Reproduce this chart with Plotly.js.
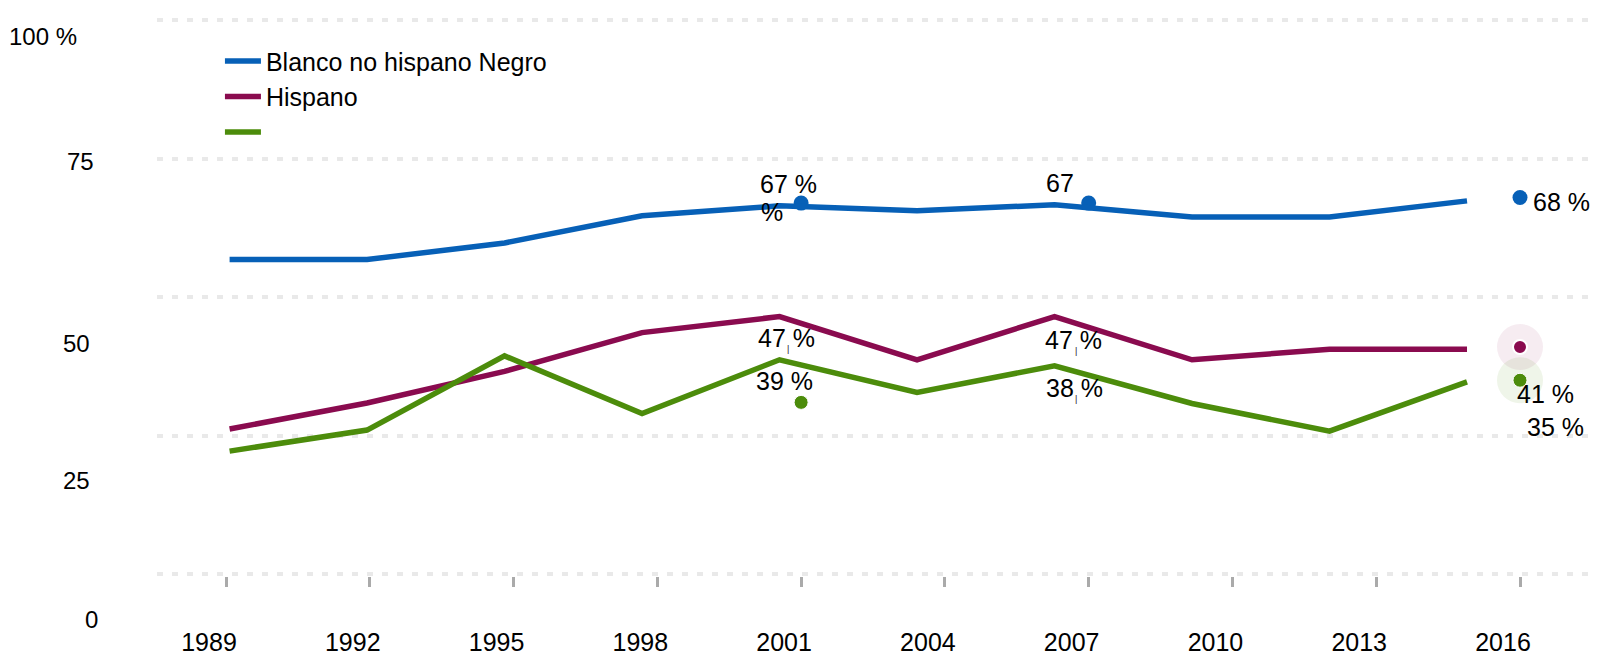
<!DOCTYPE html>
<html><head><meta charset="utf-8">
<script src="https://cdn.plot.ly/plotly-3.0.1.min.js"></script>
<style>html,body{margin:0;padding:0;background:#fff}#chart{width:1601px;height:655px}</style>
</head><body><div id="chart"></div>
<script>
// ---- data ----
const years = [1989, 1992, 1995, 1998, 2001, 2004, 2007, 2010, 2013, 2016];
const blanco = [56.8, 56.8, 59.8, 64.7, 66.5, 65.6, 66.7, 64.5, 64.5, 67.4];
const hispano = [26.2, 30.9, 36.6, 43.6, 46.5, 38.7, 46.5, 38.7, 40.6, 40.6];
const negro = [22.2, 26.0, 39.4, 29.0, 38.7, 32.8, 37.6, 30.8, 25.8, 34.7];
const seriesNames = ['Blanco no hispano Negro', 'Hispano', ' '];
const tickYears = [1989, 1992, 1995, 1998, 2001, 2004, 2007, 2010, 2013, 2016];
const yTickVals = [100, 75, 50, 25, 0];
const yTickText = ['100 %', '75', '50', '25', '0'];
const dotYearsBlanco = [2001, 2007, 2016];
const dotBlanco = [67, 67, 68];
const dotYearsHispano = [2016];
const dotHispano = [41];
const dotYearsNegro = [2001, 2016];
const dotNegro = [31, 35];
const labelTexts = ['67 %', '%', '67', '68 %', '47 %', '47 %', '39 %', '38 %', '41 %', '35 %'];
const labelYears = [2001, 2001, 2007, 2016, 2001, 2007, 2001, 2007, 2016, 2016];
const labelValues = [67, 67, 67, 68, 47, 47, 39, 38, 41, 35];
const markYears = [2001, 2007, 2007];
const markValues = [47, 47, 38];

// ---- style ----
const FONT = "Arial, 'Liberation Sans', sans-serif";
const C_BLUE = '#0760b7', C_PURPLE = '#8a0b4f', C_GREEN = '#4c8c0b';
const colors = [C_BLUE, C_PURPLE, C_GREEN];

const traces = [blanco, hispano, negro].map((vals, i) => ({
  x: years, y: vals, xaxis: 'x2', yaxis: 'y', type: 'scatter', mode: 'lines',
  name: seriesNames[i], line: {color: colors[i], width: 5.5}, hoverinfo: 'skip'
}));
traces.push({x: dotYearsHispano, y: dotHispano, mode: 'markers', showlegend: false, hoverinfo: 'skip',
  marker: {size: 46, color: 'rgba(138,11,79,0.08)'}});
traces.push({x: [dotYearsNegro[1]], y: [dotNegro[1]], mode: 'markers', showlegend: false, hoverinfo: 'skip',
  marker: {size: 46, color: 'rgba(76,140,11,0.09)'}});
traces.push({x: dotYearsBlanco, y: dotBlanco, mode: 'markers', showlegend: false, hoverinfo: 'skip',
  marker: {size: 15, color: C_BLUE}});
traces.push({x: dotYearsHispano, y: dotHispano, mode: 'markers', showlegend: false, hoverinfo: 'skip',
  marker: {size: 14, color: C_PURPLE, line: {color: '#fff', width: 2}}});
traces.push({x: dotYearsNegro, y: dotNegro, mode: 'markers', showlegend: false, hoverinfo: 'skip',
  marker: {size: 14, color: C_GREEN, line: {color: '#fff', width: 1}}});
// invisible trace carrying the shifted year-label axis
traces.push({x: [tickYears[0]], y: [null], xaxis: 'x3', yaxis: 'y', mode: 'markers', showlegend: false, hoverinfo: 'skip'});

// label offsets in px (xshift, yshift, xanchor)
const labelPos = [
  [-13, 19, 'center'], [-29, -9, 'center'], [-29, 20, 'center'], [11, -4, 'left'],
  [-15, -24, 'center'], [-15, -26, 'center'], [-17, -23, 'center'], [-14, -24, 'center'],
  [25, -47, 'center'], [35, -47, 'center']
];
const markPos = [[-13, -35], [-13, -37], [-13, -35]];
const yLabPos = [[-150, -16], [-92, -3], [-96, -46], [-96, -45], [-74, -45]];

const annotations = [];
labelTexts.forEach((t, i) => annotations.push({
  x: labelYears[i], y: labelValues[i], xref: 'x', yref: 'y', text: t, showarrow: false,
  xshift: labelPos[i][0], yshift: labelPos[i][1], xanchor: labelPos[i][2],
  font: {family: FONT, size: 25, color: '#000'}
}));
markYears.forEach((yr, i) => annotations.push({
  x: yr, y: markValues[i], xref: 'x', yref: 'y', text: '|', showarrow: false,
  xshift: markPos[i][0], yshift: markPos[i][1], font: {family: FONT, size: 9, color: '#222'}
}));
yTickText.forEach((t, i) => annotations.push({
  x: 0, y: yTickVals[i], xref: 'paper', yref: 'y', text: t, showarrow: false, xanchor: 'left',
  xshift: yLabPos[i][0], yshift: yLabPos[i][1], font: {family: FONT, size: 24, color: '#000'}
}));

const layout = {
  width: 1601, height: 655,
  margin: {l: 157, r: 7, t: 10, b: 79},
  paper_bgcolor: '#fff', plot_bgcolor: '#fff',
  font: {family: FONT, size: 24, color: '#000'},
  showlegend: true,
  legend: {x: 0.0438, y: 0.95, xanchor: 'left', yanchor: 'top', bgcolor: 'rgba(0,0,0,0)',
    itemwidth: 36, font: {family: FONT, size: 25, color: '#000'}, traceorder: 'normal'},
  xaxis: {range: [1987.56, 2017.544], tickvals: tickYears, showticklabels: false,
    showgrid: false, zeroline: false, showline: false, ticks: 'outside', ticklen: 10, tickwidth: 3,
    tickcolor: '#aaaaaa'},
  xaxis2: {range: [1987.416, 2018.771], overlaying: 'x', visible: false},
  xaxis3: {range: [1987.915, 2017.899], overlaying: 'x', anchor: 'y', side: 'bottom',
    tickvals: tickYears, ticktext: tickYears.map(String), showgrid: false, zeroline: false,
    showline: false, ticks: '', ticklabelstandoff: 49, tickfont: {family: FONT, size: 25, color: '#000'}},
  yaxis: {range: [-0.361, 101.88], tickvals: yTickVals, showticklabels: false, showgrid: true,
    gridcolor: '#e9e9e9', gridwidth: 4, griddash: '6px,9px', zeroline: false, showline: false, ticks: ''},
  annotations: annotations
};

Plotly.newPlot('chart', traces, layout, {displayModeBar: false, staticPlot: true});
</script></body></html>
